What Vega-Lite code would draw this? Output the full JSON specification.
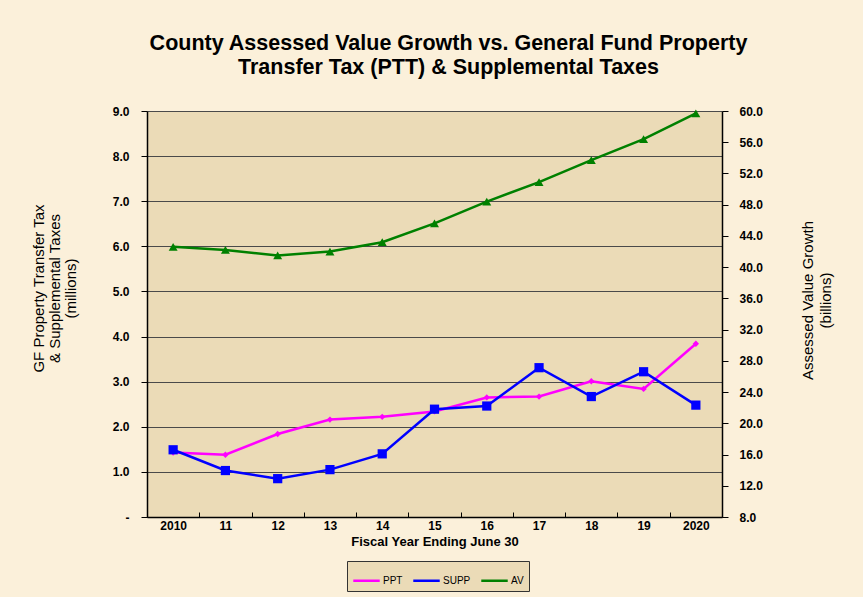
{
  "$schema": "https://vega.github.io/schema/vega-lite/v6.json",
  "width": 575,
  "height": 406,
  "autosize": {"type": "none"},
  "padding": {"left": 147, "top": 111, "right": 141, "bottom": 80},
  "background": "#FBF0DA",
  "config": {
    "font": "Liberation Sans",
    "view": {"fill": "#EBDBB7", "stroke": null}
  },
  "title": {
    "text": ["County Assessed Value Growth vs. General Fund Property", "Transfer Tax (PTT) & Supplemental Taxes"],
    "fontSize": 21.5,
    "fontWeight": "bold",
    "color": "#000000",
    "lineHeight": 24,
    "anchor": "middle",
    "dx": 14,
    "offset": 27
  },
  "data": {
    "values": [
      {"label": "2010", "PPT": 1.43, "SUPP": 1.49, "AV": 42.6},
      {"label": "11", "PPT": 1.38, "SUPP": 1.03, "AV": 42.2},
      {"label": "12", "PPT": 1.84, "SUPP": 0.85, "AV": 41.5},
      {"label": "13", "PPT": 2.16, "SUPP": 1.05, "AV": 42.0},
      {"label": "14", "PPT": 2.22, "SUPP": 1.40, "AV": 43.2},
      {"label": "15", "PPT": 2.34, "SUPP": 2.39, "AV": 45.6},
      {"label": "16", "PPT": 2.65, "SUPP": 2.46, "AV": 48.4},
      {"label": "17", "PPT": 2.67, "SUPP": 3.31, "AV": 50.9},
      {"label": "18", "PPT": 3.01, "SUPP": 2.67, "AV": 53.7},
      {"label": "19", "PPT": 2.84, "SUPP": 3.22, "AV": 56.4},
      {"label": "2020", "PPT": 3.84, "SUPP": 2.48, "AV": 59.7}
    ]
  },
  "encoding": {
    "x": {
      "field": "label",
      "type": "ordinal",
      "sort": null,
      "scale": {"paddingInner": 0, "paddingOuter": 0},
      "axis": {
        "title": "Fiscal Year Ending June 30",
        "titleFontSize": 13,
        "titleFontWeight": "bold",
        "titleColor": "#000000",
        "titlePadding": 4,
        "labelAngle": 0,
        "labelFontSize": 12,
        "labelFontWeight": "bold",
        "labelColor": "#000000",
        "labelPadding": 8,
        "tickBand": "extent",
        "tickSize": -5,
        "tickColor": "#000000",
        "domainColor": "#000000",
        "domainWidth": 1.5
      }
    }
  },
  "layer": [
    {
      "transform": [{"fold": ["PPT", "SUPP"], "as": ["series", "value"]}],
      "encoding": {
        "y": {
          "field": "value",
          "type": "quantitative",
          "scale": {"domain": [0, 9], "nice": false, "zero": false},
          "axis": {
            "orient": "left",
            "values": [0, 1, 2, 3, 4, 5, 6, 7, 8, 9],
            "labelExpr": "datum.value == 0 ? '-' : format(datum.value, '.1f')",
            "labelFontSize": 12,
            "labelFontWeight": "bold",
            "labelColor": "#000000",
            "labelPadding": 12,
            "tickSize": 6,
            "tickColor": "#000000",
            "domainColor": "#000000",
            "domainWidth": 1.5,
            "grid": true,
            "gridColor": "#4a4a4a",
            "gridWidth": 1,
            "title": ["GF Property Transfer Tax", "& Supplemental Taxes", "(millions)"],
            "titleFontSize": 15,
            "titleFontWeight": "normal",
            "titleColor": "#000000",
            "titleLineHeight": 16,
            "titlePadding": 34,
            "titleY": 177
          }
        },
        "color": {
          "field": "series",
          "type": "nominal",
          "scale": {"domain": ["PPT", "SUPP", "AV"], "range": ["#FF00FF", "#0000FF", "#008000"]},
          "legend": {
            "title": null,
            "orient": "none",
            "legendX": 200,
            "legendY": 450,
            "direction": "horizontal",
            "symbolType": "stroke",
            "symbolSize": 700,
            "symbolStrokeWidth": 2.5,
            "labelFontSize": 10,
            "labelColor": "#000000",
            "labelOffset": 2,
            "strokeColor": "#333333",
            "fillColor": "#EBDBB7",
            "padding": 5,
            "columnPadding": 5
          }
        }
      },
      "layer": [
        {"mark": {"type": "line", "strokeWidth": 2.5}},
        {
          "mark": {"type": "point", "filled": true, "opacity": 1},
          "encoding": {
            "shape": {"field": "series", "type": "nominal", "scale": {"domain": ["PPT", "SUPP"], "range": ["diamond", "square"]}, "legend": null},
            "size": {"field": "series", "type": "nominal", "scale": {"domain": ["PPT", "SUPP"], "range": [40, 85]}, "legend": null}
          }
        }
      ]
    },
    {
      "transform": [{"fold": ["AV"], "as": ["series", "value"]}],
      "encoding": {
        "y": {
          "field": "value",
          "type": "quantitative",
          "scale": {"domain": [8, 60], "nice": false, "zero": false},
          "axis": {
            "orient": "right",
            "values": [8, 12, 16, 20, 24, 28, 32, 36, 40, 44, 48, 52, 56, 60],
            "format": ".1f",
            "labelFontSize": 12,
            "labelFontWeight": "bold",
            "labelColor": "#000000",
            "labelPadding": 11,
            "tickSize": 6,
            "tickColor": "#000000",
            "domainColor": "#000000",
            "domainWidth": 1.5,
            "grid": false,
            "title": ["Assessed Value Growth", "(billions)"],
            "titleFontSize": 15,
            "titleFontWeight": "normal",
            "titleColor": "#000000",
            "titleLineHeight": 18,
            "titleAngle": 270,
            "titlePadding": 35,
            "titleY": 189
          }
        },
        "color": {"field": "series", "type": "nominal"}
      },
      "layer": [
        {"mark": {"type": "line", "strokeWidth": 2.5}},
        {"mark": {"type": "point", "filled": true, "opacity": 1, "shape": "triangle-up"}, "encoding": {"size": {"value": 80}}}
      ]
    }
  ],
  "resolve": {"scale": {"y": "independent"}}
}
